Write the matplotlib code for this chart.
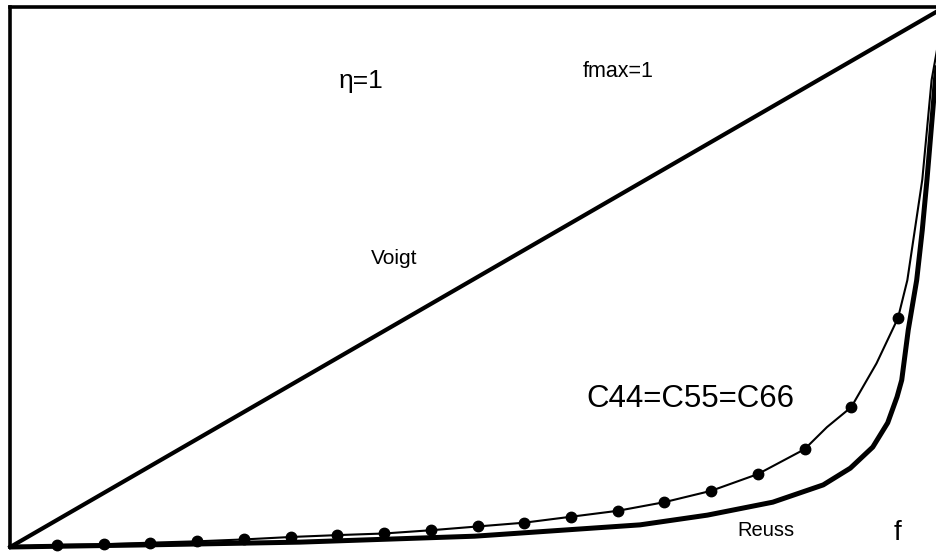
import numpy as np
import matplotlib
matplotlib.use("Agg")
import matplotlib.pyplot as plt

plt.rcParams["font.family"] = ["Liberation Sans", "DejaVu Sans"]

# Voigt bound (straight line)
f_voigt = [0.0, 1.0]
c_voigt = [0.0, 1.0]

# C44=C55=C66 curve, marker points
f_dots = [0.05, 0.10, 0.15, 0.20, 0.25, 0.30, 0.35, 0.40, 0.45, 0.50,
          0.55, 0.60, 0.65, 0.70, 0.75, 0.80, 0.85, 0.90, 0.95]
c_dots = [0.004, 0.005, 0.008, 0.0105, 0.014, 0.0185, 0.022, 0.025, 0.031, 0.038,
          0.045, 0.056, 0.067, 0.083, 0.104, 0.135, 0.181, 0.259, 0.424]

# thin line read between / beyond the markers
f_line = [0.0, 0.05, 0.10, 0.15, 0.20, 0.25, 0.30, 0.35, 0.40, 0.45, 0.50,
          0.55, 0.60, 0.65, 0.70, 0.75, 0.80, 0.85, 0.874, 0.90, 0.927, 0.95,
          0.960, 0.968, 0.976, 0.986, 1.0]
c_line = [0.0, 0.004, 0.005, 0.008, 0.0105, 0.014, 0.0185, 0.022, 0.025, 0.031, 0.038,
          0.045, 0.056, 0.067, 0.083, 0.104, 0.135, 0.181, 0.222, 0.259, 0.340, 0.424,
          0.494, 0.587, 0.680, 0.865, 1.0]

# Reuss bound
f_reuss = [0.0, 0.150, 0.310, 0.497, 0.674, 0.746, 0.816, 0.870, 0.899, 0.923,
           0.939, 0.949, 0.954, 0.961, 0.970, 0.976, 0.981, 0.990, 1.0]
c_reuss = [0.0, 0.004, 0.009, 0.020, 0.041, 0.059, 0.083, 0.115, 0.146, 0.185,
           0.230, 0.278, 0.309, 0.402, 0.494, 0.587, 0.680, 0.865, 1.0]

fig = plt.figure(figsize=(9.36, 5.56), dpi=100)
ax = fig.add_axes([0.011, 0.0162, 0.9983, 0.9712])

ax.plot(f_voigt, c_voigt, color="black", lw=3.0, clip_on=False)
ax.plot(f_reuss, c_reuss, color="black", lw=3.6, clip_on=False,
        solid_capstyle="round", solid_joinstyle="round")
ax.plot(f_line, c_line, color="black", lw=1.5, clip_on=False,
        solid_joinstyle="round")
ax.plot(f_dots, c_dots, "o", color="black", ms=7.5, clip_on=False)

ax.set_xlim(0, 1)
ax.set_ylim(0, 1)
ax.set_xticks([])
ax.set_yticks([])
for side in ["right", "bottom"]:
    ax.spines[side].set_visible(False)
for side in ["left", "top"]:
    ax.spines[side].set_linewidth(2.6)

ax.text(0.375, 0.85, "η=1", fontsize=19, ha="center", va="baseline")
ax.text(0.651, 0.870, "fmax=1", fontsize=15.5, ha="center", va="baseline")
ax.text(0.411, 0.524, "Voigt", fontsize=15, ha="center", va="baseline")
ax.text(0.728, 0.259, "C44=C55=C66", fontsize=22.5, ha="center", va="baseline")
ax.text(0.809, 0.020, "Reuss", fontsize=14.5, ha="center", va="baseline")
ax.text(0.950, 0.013, "f", fontsize=20, ha="center", va="baseline")

fig.savefig("out.png", dpi=100)
